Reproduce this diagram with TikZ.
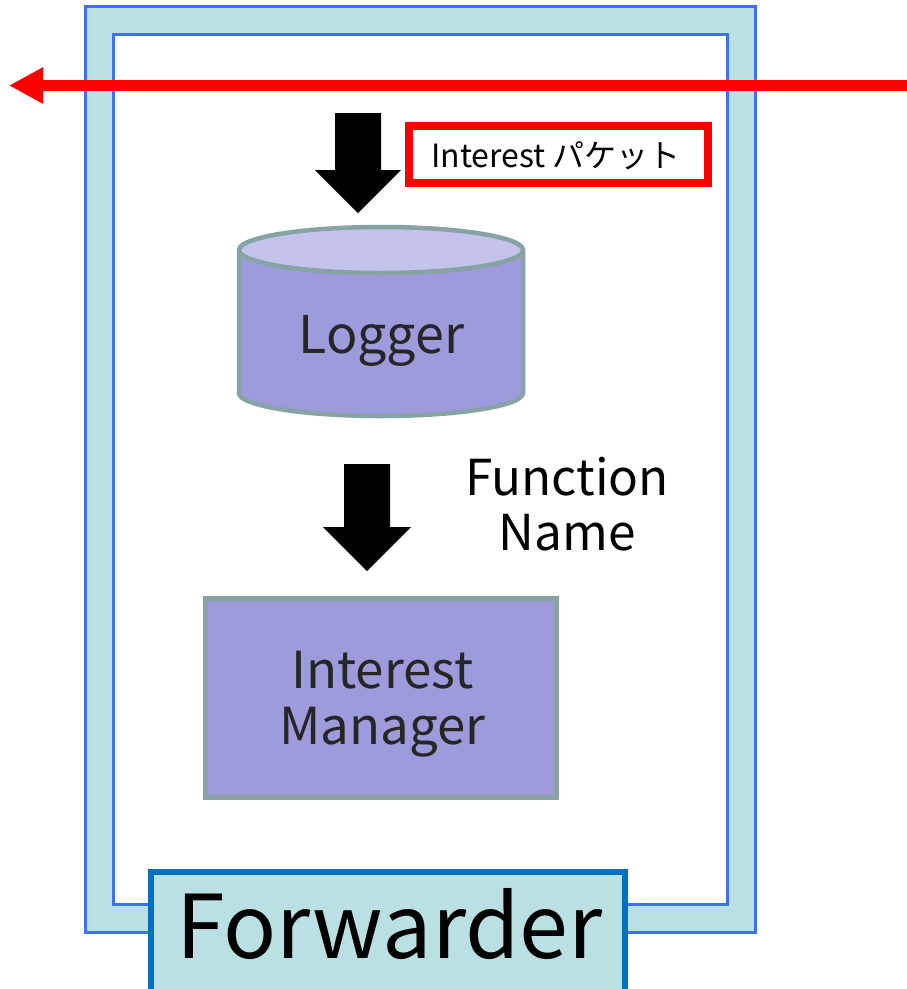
\documentclass[tikz,border=0pt]{standalone}
\usepackage{fontspec}
\setmainfont{Noto Sans CJK JP}
\usetikzlibrary{arrows.meta}
\definecolor{frameBlue}{RGB}{64,110,255}
\definecolor{frameFill}{RGB}{187,224,227}
\definecolor{fwdBlue}{RGB}{0,112,192}
\definecolor{bodyC}{RGB}{158,155,220}
\definecolor{topC}{RGB}{196,195,236}
\definecolor{edgeC}{RGB}{136,163,163}
\definecolor{txtC}{RGB}{38,38,38}
\begin{document}
\begin{tikzpicture}[x=1pt,y=-1pt,
  framestroke/.style={draw=frameBlue,line width=3pt},
  shapeedge/.style={draw=edgeC,line width=4.5pt},
  blockarrow/.style={fill=black},
  lbl/.style={inner sep=0pt,anchor=base}]
\useasboundingbox (0,0) rectangle (907,989);
\clip (0,0) rectangle (907,989);
% frame
\draw[framestroke,fill=frameFill] (85.5,6.5) rectangle (755.5,932.5);
\draw[framestroke,fill=white] (113,34.5) rectangle (727.5,904.5);
% red arrow
\coordinate (rs) at (907,85.5);
\coordinate (re) at (9,85.5);
\draw[red,line width=10.5pt,-{Triangle[length=34pt,width=34pt]}] (rs) -- (re);
% arrow 1
\fill[blockarrow] (335,113) -- (381,113) -- (381,170) -- (401,170) -- (358,213) -- (315,170) -- (335,170) -- cycle;
% Interest packet label
\node[draw=red,line width=7.5pt,fill=white,minimum width=299pt,minimum height=57pt,inner sep=0pt] (pk) at (558.5,154.5) {};
\node[lbl,font=\fontsize{32}{36}\selectfont] (pktxt) at (556,167) {Interest パケット};
% Logger cylinder
\fill[bodyC] (239,250) rectangle (523,393);
\fill[bodyC] (381,393) ellipse[x radius=142pt,y radius=23pt];
\draw[shapeedge] (239,250) -- (239,393) arc[start angle=180,end angle=360,x radius=142pt,y radius=23pt] -- (523,250);
\draw[shapeedge,fill=topC] (381,250) ellipse[x radius=142pt,y radius=23pt];
\node[lbl,text=txtC,font=\fontsize{52}{58}\selectfont] (logger) at (381.5,353) {Logger};
% arrow 2
\fill[blockarrow] (344,464) -- (390,464) -- (390,527) -- (411,527) -- (367,571) -- (323,527) -- (344,527) -- cycle;
\node[lbl,font=\fontsize{49.5}{55}\selectfont] (fn1) at (567,495) {Function};
\node[lbl,font=\fontsize{49.5}{55}\selectfont] (fn2) at (567,550) {Name};
% Interest Manager
\node[shapeedge,fill=bodyC,minimum width=351pt,minimum height=199pt,inner sep=0pt] (im) at (381,698) {};
\node[lbl,text=txtC,font=\fontsize{51}{56}\selectfont] (im1) at (382.5,688) {Interest};
\node[lbl,text=txtC,font=\fontsize{51}{56}\selectfont] (im2) at (382.5,744) {Manager};
% Forwarder
\node[draw=fwdBlue,line width=6pt,fill=frameFill,minimum width=474.5pt,minimum height=140pt,inner sep=0pt,anchor=north] (fwd) at (387.75,869) {};
\node[lbl,font=\fontsize{88}{96}\selectfont] (fwdtxt) at (389.5,958) {Forwarder};
\end{tikzpicture}
\end{document}
